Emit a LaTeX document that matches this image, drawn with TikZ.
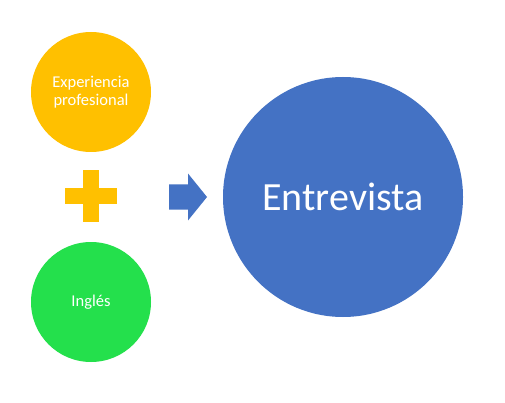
\documentclass[tikz,border=0pt]{standalone}
\usepackage{fontspec}
\setmainfont{Carlito}
\definecolor{cyellow}{HTML}{FFC000}
\definecolor{cgreen}{HTML}{24E04C}
\definecolor{cblue}{HTML}{4472C4}
\begin{document}
\begin{tikzpicture}[x=1pt,y=-1pt,
  disc/.style={circle,inner sep=0pt,text=white,align=center,font=\fontsize{16.5}{18.5}\selectfont}]
\useasboundingbox[fill=white] (0,0) rectangle (505,403);
\node[disc,fill=cyellow,minimum size=120pt] (exp) at (91,92) {Experiencia\\profesional};
\node[disc,fill=cgreen,minimum size=120pt] (ing) at (91,302) {Inglés};
\node[disc,fill=cblue,minimum size=240pt,font=\fontsize{40}{48}\selectfont] (ent) at (343,197) {Entrevista};
\coordinate (plus) at (91,196);
\fill[cyellow] ([xshift=-26pt,yshift=-8pt]plus) rectangle ([xshift=26pt,yshift=8pt]plus);
\fill[cyellow] ([xshift=-8pt,yshift=-26pt]plus) rectangle ([xshift=8pt,yshift=26pt]plus);
\coordinate (arr) at (169,197);
\fill[cblue] (arr) ++(0,-12.5) -- ++(19,0) -- ++(0,-11) -- ++(19,23.5) -- ++(-19,23.5) -- ++(0,-11) -- ++(-19,0) -- cycle;
\end{tikzpicture}
\end{document}
